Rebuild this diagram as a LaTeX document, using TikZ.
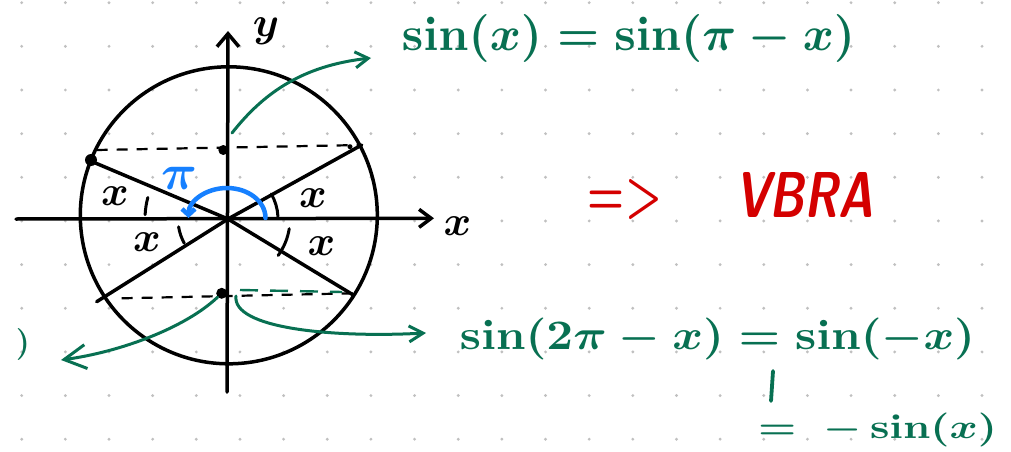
\documentclass[tikz,border=0pt]{standalone}
\usetikzlibrary{arrows.meta}
\definecolor{pen}{RGB}{8,112,82}
\definecolor{redpen}{RGB}{212,0,0}
\definecolor{bluepen}{RGB}{22,128,255}
\definecolor{griddot}{RGB}{192,192,192}
\newcommand{\hx}{\scalebox{4.2}{\boldmath$x$}}
\begin{document}
\begin{tikzpicture}[x=1pt,y=-1pt,
  stroke/.style={line width=3.5pt,line cap=round,line join=round},
  dashline/.style={line width=2.2pt,dash pattern=on 11pt off 9pt},
  anglearc/.style={line width=3pt,line cap=round},
  greenpen/.style={draw=pen,line width=3pt,line cap=round},
  lbl/.style={inner sep=0pt,outer sep=0pt},
  dotnode/.style={circle,fill=black,inner sep=0pt},
]
\useasboundingbox (0,0) rectangle (1011,452);
\clip (0,0) rectangle (1011,452);
% dot grid
\foreach \i in {0,...,22}{\foreach \j in {0,...,10}{
  \fill[griddot] (21.7+43.65*\i,2.7+43.65*\j) circle[radius=1.6];}}
% named points
\coordinate (O) at (228,219);
\coordinate (UL) at (88.3,160);
\coordinate (LR) at (353.3,295);
\coordinate (LL) at (96.7,301.7);
\coordinate (UR) at (361.7,145);
\coordinate (xl) at (16,219);
\coordinate (xr) at (434,218.3);
\coordinate (yb) at (227,392);
\coordinate (yt) at (228,31);
% circle
\draw[stroke] (228.8,215.3) circle[radius=148.5];
% axes
\draw[stroke,-{Straight Barb[length=12pt,width=18pt]}] (xl) -- (xr);
\draw[stroke,-{Straight Barb[length=13pt,width=22pt]}] (yb) -- (yt);
\node[lbl] (ylab) at (266,31) {\scalebox{4.2}{\boldmath$y$}};
\node[lbl] (xlab) at (457.5,226) {\hx};
% radii
\draw[stroke] (UL) -- (O) -- (LR);
\draw[stroke] (LL) -- (O) -- (UR);
% dashed projections
\draw[dashline] (96.7,150) -- (361.7,145);
\draw[dashline] (121.7,298.3) -- (353.3,293.3);
\draw[pen,line width=2.4pt,dash pattern=on 18pt off 12pt] (240,290) -- (342,292);
% dots
\node[dotnode,minimum size=12pt] (dA) at (91,160) {};
\node[dotnode,minimum size=10pt] (dU) at (223.3,150) {};
\node[dotnode,minimum size=11pt] (dL) at (221.7,293.3) {};
\node[dotnode,minimum size=5pt] (dR) at (350,146.7) {};
% angle arcs
\draw[anglearc] (O) ++(183:83) arc[start angle=183,end angle=195,radius=83];
\draw[anglearc] (O) ++(-30:50) arc[start angle=-30,end angle=-3,radius=50];
\draw[anglearc] (O) ++(151:50) arc[start angle=151,end angle=171,radius=50];
\draw[anglearc] (O) ++(9:62) arc[start angle=9,end angle=36,radius=62];
% x labels
\node[lbl] (x1) at (115,196) {\hx};
\node[lbl] (x2) at (313,198) {\hx};
\node[lbl] (x3) at (147,242) {\hx};
\node[lbl] (x4) at (321.5,246) {\hx};
% blue arc and pi
\draw[bluepen,line width=4.5pt,line cap=round,-{Straight Barb[length=6pt,width=13pt]}]
  (265.5,218) arc[start angle=0,end angle=-180,x radius=38.5,y radius=30];
\node[lbl,text=bluepen] (pi) at (179,178) {\scalebox{5}{\boldmath$\pi$}};
% green texts
\node[lbl,text=pen] (t1) at (628.5,39) {\resizebox*{453pt}{48pt}{\boldmath$\sin(x)=\sin(\pi-x)$}};
\node[lbl,text=pen] (t2) at (717.5,339) {\resizebox*{515pt}{42pt}{\boldmath$\sin(2\pi-x)=\sin(-x)$}};
\node[lbl,text=pen] (t3) at (877.5,430) {\resizebox*{239pt}{34pt}{\boldmath$=\;-\sin(x)$}};
\coordinate (barTop) at (773,371);
\coordinate (barBot) at (771,401);
\draw[pen,line width=3.8pt,line cap=round] (barTop) -- (barBot);
\node[lbl,text=pen,anchor=east] (tcut) at (30,344) {\resizebox*{14pt}{32pt}{\boldmath$)$}};
% green arrows
\coordinate (g1s) at (232,133);
\coordinate (g1e) at (371,58);
\draw[greenpen,-{Straight Barb[length=13pt,width=16pt]}] (g1s) .. controls (262,95) and (300,66) .. (g1e);
\coordinate (g2e) at (61,360);
\draw[greenpen,-{Straight Barb[length=22pt,width=24pt]}] (dL) .. controls (185,328) and (120,352) .. (g2e);
\coordinate (g3s) at (236,296);
\coordinate (g3e) at (426,333);
\draw[greenpen,-{Straight Barb[length=14pt,width=16pt]}] (g3s) .. controls (232,328) and (330,338) .. (g3e);
% red conclusion
\node[lbl,text=redpen] (imp) at (625,200) {\resizebox{74pt}{35pt}{\boldmath$\mathord{=}\mathord{>}$}};
\node[lbl,text=redpen] (vera) at (804,194.5) {\resizebox*{138pt}{45pt}{\sffamily\bfseries\itshape VBRA}};
\end{tikzpicture}
\end{document}
